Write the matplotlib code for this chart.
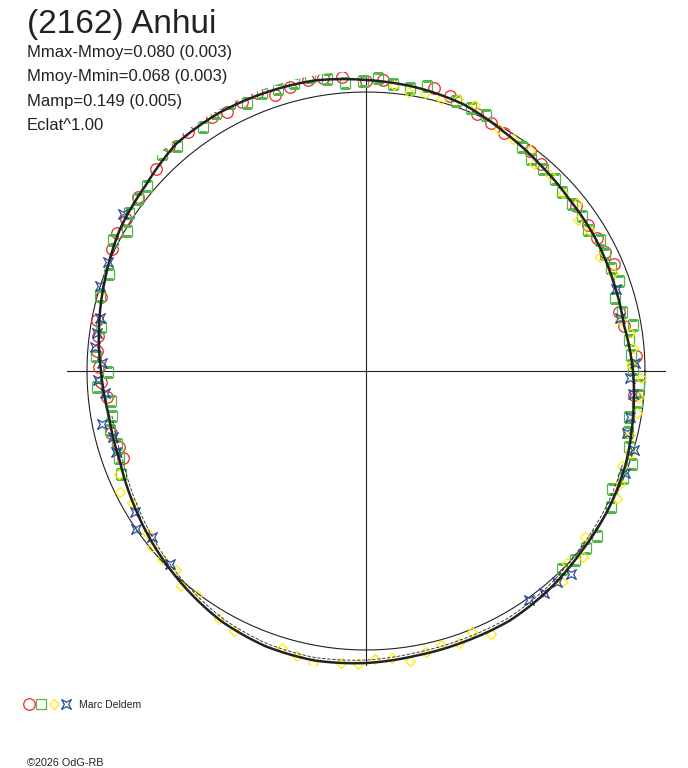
import numpy as np
import matplotlib
matplotlib.use("Agg")
import matplotlib.pyplot as plt
from matplotlib.path import Path
from matplotlib.patches import PathPatch
from matplotlib.legend_handler import HandlerTuple

plt.rcParams['font.family'] = ['Liberation Sans', 'DejaVu Sans']

title = "(2162) Anhui"
stats = ["Mmax-Mmoy=0.080 (0.003)",
         "Mmoy-Mmin=0.068 (0.003)",
         "Mamp=0.149 (0.005)",
         "Eclat^1.00"]
observer = "Marc Deldem"
credit = "\u00a92026 OdG-RB"

ref_r = 279

# fitted curve, phase angle in degrees
curve_deg = list(range(0, 360, 10))
curve_r = [267, 262, 263, 265, 266, 270, 276, 284, 288, 291,
           295, 296, 297, 296, 288, 284, 277, 271, 265, 261,
           262, 268, 275, 282, 289, 293, 294, 292, 289, 288,
           288, 285, 281, 279, 276, 271]

# second (thin) solution on the lower half
curve2_deg = list(range(190, 350, 10))
curve2_r = [258, 259, 265, 272, 279, 286, 290, 291, 289, 286,
            285, 285, 282, 278, 276, 273]

# sessions: (phase deg, radius)
red_deg = [3.2, 9.9, 13.2, 23.3, 26.5, 29.9, 33.3, 38.2, 49.8, 53.3, 59.9, 63.2,
           66.7, 73.1, 76.5, 86.6, 90.0, 94.7, 98.4, 101.3, 105.0, 108.2, 111.5,
           114.8, 118.2, 121.2, 126.6, 131.2, 136.1, 142.6, 147.7, 151.1, 154.4,
           164.4, 169.3, 172.6, 175.7, 179.1, 182.3, 185.7, 193.7, 197.1, 199.7,
           354.9]
red_r = [270.4, 261.9, 259.9, 270.1, 267.1, 266.1, 266.0, 267.1, 270.9, 274.6,
         275.5, 278.3, 279.8, 287.3, 290.8, 291.5, 290.3, 294.7, 295.8, 296.7,
         293.7, 290.6, 298.4, 296.6, 294.3, 297.5, 298.1, 298.9, 291.4, 286.8,
         283.9, 284.8, 281.9, 275.5, 273.5, 270.0, 270.0, 266.7, 265.5, 260.0,
         262.5, 258.0, 258.4, 269.4]

green_deg = [0.4, 3.5, 6.7, 9.8, 13.0, 16.3, 19.7, 22.7, 26.1, 29.2, 32.4, 35.7,
             39.1, 42.4, 45.5, 48.8, 52.1, 55.1, 64.9, 68.3, 71.5, 78.0, 81.2,
             84.6, 87.6, 90.6, 94.2, 97.6, 100.8, 104.0, 107.3, 110.6, 113.9,
             116.9, 120.2, 123.7, 130.0, 133.3, 139.8, 143.0, 146.2, 149.6,
             152.6, 159.3, 164.3, 170.5, 176.8, 180.3, 183.5, 186.6, 190.0,
             193.0, 196.4, 199.4, 202.8, 314.7, 317.9, 321.2, 324.5, 331.0,
             334.3, 337.4, 340.8, 343.8, 346.9, 350.1, 353.5, 357.1]
green_r = [266.7, 265.2, 265.1, 270.6, 263.1, 259.4, 268.3, 265.7, 266.1, 268.2,
           263.2, 265.6, 265.0, 265.9, 269.4, 268.4, 268.4, 273.4, 282.7, 283.5,
           285.1, 291.7, 286.1, 288.3, 293.0, 290.3, 288.5, 294.3, 299.0, 296.6,
           295.1, 296.6, 292.8, 300.8, 298.2, 293.5, 293.6, 298.0, 286.4, 285.2,
           284.8, 276.9, 284.9, 274.7, 276.4, 269.0, 270.7, 258.3, 269.2, 257.0,
           258.3, 262.7, 259.3, 261.5, 266.0, 278.4, 281.8, 282.2, 283.5, 279.8,
           273.2, 278.8, 281.3, 274.1, 268.6, 266.9, 272.4, 273.7]

yellow_deg = [1.4, 4.9, 8.1, 11.4, 21.7, 26.0, 32.3, 35.4, 38.5, 42.2, 46.8, 50.9,
              53.4, 57.6, 61.1, 67.7, 71.2, 74.6, 78.0, 81.2, 84.5, 202.7, 206.1,
              209.3, 216.4, 219.4, 222.7, 226.3, 229.2, 232.9, 239.4, 243.1,
              253.1, 256.4, 259.8, 265.1, 268.4, 271.8, 275.2, 278.6, 282.0,
              285.4, 288.9, 292.1, 295.4, 312.9, 316.2, 319.4, 322.8, 332.9,
              336.0, 339.6, 342.7, 346.4, 351.2, 354.6, 358.5]
yellow_r = [264.8, 268.3, 266.7, 259.1, 265.6, 260.4, 264.1, 260.5, 269.3, 265.5,
            268.8, 266.6, 275.2, 274.8, 276.0, 287.5, 287.0, 281.8, 283.9, 282.6,
            287.3, 267.3, 274.0, 268.8, 272.5, 277.5, 277.8, 275.1, 283.8, 280.8,
            288.4, 291.2, 289.8, 293.2, 297.0, 293.5, 293.1, 288.4, 288.5, 293.0,
            287.0, 284.3, 287.2, 281.3, 291.2, 287.6, 278.0, 286.2, 275.0, 281.6,
            278.0, 272.8, 276.5, 271.6, 273.9, 274.2, 274.8]

blue_deg = [1.6, 11.7, 18.1, 147.2, 157.1, 162.3, 168.8, 172.0, 174.9, 178.3,
            181.9, 184.9, 191.4, 194.7, 198.0, 211.3, 214.5, 217.8, 224.6,
            305.5, 308.8, 312.1, 315.3, 338.6, 343.6, 346.7, 350.2, 355.1, 358.4]
blue_r = [269.1, 259.4, 263.0, 289.6, 280.5, 279.3, 271.2, 271.9, 272.1, 264.4,
          267.8, 262.0, 269.6, 261.3, 262.9, 270.5, 279.2, 271.3, 275.1,
          281.3, 284.5, 284.6, 288.5, 278.3, 279.4, 267.9, 267.9, 268.3, 264.1]

RED = '#f02828'
GREEN = '#50b848'
YELLOW = '#ffec00'
BLUE = '#2c4c9c'
INK = '#222222'

star = [(-1, -1), (0, -0.45), (1, -1), (0.45, 0), (1, 1),
        (0, 0.45), (-1, 1), (-0.45, 0), (-1, -1)]

fig = plt.figure(figsize=(6.88, 7.68), dpi=100)
fig.patch.set_facecolor('white')

ax = fig.add_axes([66 / 688, 97 / 768, 600 / 688, 600 / 768], projection='polar')
ax.set_ylim(0, 300)
ax.set_axis_off()

# axes cross
for ang, length in [(0, 299), (90, 295), (180, 299), (270, 294)]:
    ax.plot([np.deg2rad(ang)] * 2, [0, length], color=INK, lw=0.8, zorder=1)

# reference circle
t = np.linspace(0, 2 * np.pi, 361)
ax.plot(t, np.full_like(t, ref_r), color=INK, lw=0.8, zorder=1)

ms = dict(mfc='none', ls='none', mew=0.9)
h_red, = ax.plot(np.deg2rad(red_deg), red_r, marker='o', ms=8.3, mec=RED, zorder=3, **ms)
h_green, = ax.plot(np.deg2rad(green_deg), green_r, marker='s', ms=6.5, mec=GREEN, zorder=3, **ms)
h_yellow, = ax.plot(np.deg2rad(yellow_deg), yellow_r, marker='D', ms=5.2, mec=YELLOW, zorder=3, **ms)
h_blue, = ax.plot(np.deg2rad(blue_deg), blue_r, marker=star, ms=7, mec=BLUE, zorder=3, **ms)


def polar_curve(deg, r, closed, **kw):
    th = np.deg2rad(deg)
    rr = list(r)
    if closed:
        th = np.append(th, 2 * np.pi)
        rr = rr + rr[:1]
    p = Path(np.column_stack([th, rr]), _interpolation_steps=40)
    ax.add_patch(PathPatch(p, fill=False, transform=ax.transData, **kw))


polar_curve(curve_deg, curve_r, True, ec=INK, lw=1.8, zorder=4)
polar_curve(curve2_deg, curve2_r, False, ec=INK, lw=0.6, ls=(0, (4, 2)), zorder=4)

# texts
fig.text(27 / 688, 1 - 33.5 / 768, title, fontsize=24, color=INK, va='baseline')
for i, s in enumerate(stats):
    fig.text(27 / 688, 1 - (56.7 + 24.6 * i) / 768, s, fontsize=12, color=INK, va='baseline')

fig.legend([(h_red, h_green, h_yellow, h_blue)], [observer],
           handler_map={tuple: HandlerTuple(ndivide=None, pad=0)},
           loc='center left', bbox_to_anchor=(22.6 / 688, 1 - 704.5 / 768),
           frameon=False, fontsize=7.5, handlelength=4.8, handletextpad=0.62,
           borderpad=0, borderaxespad=0, labelcolor=INK)

fig.text(27 / 688, 1 - 766 / 768, credit, fontsize=7.8, color=INK, va='baseline')

fig.savefig('out.png', dpi=100, facecolor='white')
